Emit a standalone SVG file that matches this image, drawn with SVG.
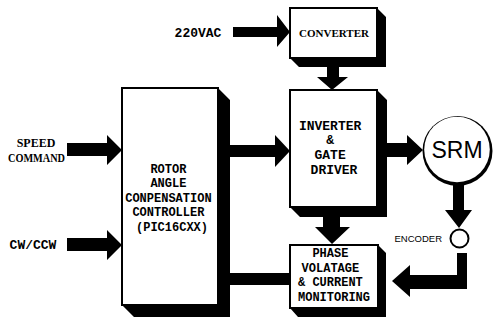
<svg xmlns="http://www.w3.org/2000/svg" width="499" height="320" viewBox="0 0 499 320">
  <style>
    .box { fill: #fff; stroke: #000; stroke-width: 2; }
    .shadow { fill: #000; }
    .arrow { fill: #000; }
    .mono { font-family: "Liberation Mono", "Courier New", monospace; font-weight: bold; fill: #000; }
    .serif { font-family: "Liberation Serif", "Times New Roman", serif; font-weight: bold; fill: #000; }
    .sans { font-family: "Liberation Sans", Arial, sans-serif; fill: #000; }
  </style>
  <rect width="499" height="320" fill="#fff"/>

  <!-- connectors (drawn first so boxes sit on top) -->
  <g id="connectors">
    <!-- 220VAC -> converter -->
    <polygon class="arrow" points="233,27 277,27 277,15 290,32 277,47 277,37 233,37"/>
    <!-- converter -> inverter -->
    <polygon class="arrow" points="327,62 339,62 339,77 348,77 332,90 317,77 327,77"/>
    <!-- speed command -> controller -->
    <polygon class="arrow" points="67,143 107,143 107,135 122,150 107,165 107,156 67,156"/>
    <!-- cw/ccw -> controller -->
    <polygon class="arrow" points="67,238 107,238 107,230 122,245 107,260 107,251 67,251"/>
    <!-- controller -> inverter -->
    <polygon class="arrow" points="226,145 275,145 275,135 290,151 275,167 275,157 226,157"/>
    <!-- inverter -> SRM -->
    <polygon class="arrow" points="384,143 407,143 407,135 423,150 407,165 407,157 384,157"/>
    <!-- inverter -> phase monitoring -->
    <polygon class="arrow" points="323,214 340,214 340,227 350,227 332,244 315,227 323,227"/>
    <!-- SRM -> encoder -->
    <polygon class="arrow" points="453,183 464,183 464,210 472,210 459,228 445,210 453,210"/>
    <!-- encoder -> phase monitoring -->
    <polygon class="arrow" points="457,253 467,253 467,289 410,289 410,297 392,281 410,265 410,275 457,275"/>
    <!-- phase monitoring -> controller -->
    <rect class="arrow" x="226" y="273" width="66" height="12"/>
  </g>

  <!-- external input labels -->
  <g id="label-220vac">
    <text class="mono" x="198" y="37" font-size="13" text-anchor="middle">220VAC</text>
  </g>
  <g id="label-speed">
    <text class="serif" x="36" y="147" font-size="12" text-anchor="middle">SPEED</text>
    <text class="serif" x="8" y="161.5" font-size="11.5" textLength="57" lengthAdjust="spacingAndGlyphs">COMMAND</text>
  </g>
  <g id="label-cwccw">
    <text class="mono" x="33" y="249" font-size="13" text-anchor="middle">CW/CCW</text>
  </g>

  <!-- converter -->
  <g id="converter">
    <polygon class="shadow" points="377,8 386,17 386,67 299,67 290,58 377,58"/>
    <rect class="box" x="290" y="8" width="87" height="50"/>
    <text class="serif" x="334" y="37" font-size="11" text-anchor="middle">CONVERTER</text>
  </g>

  <!-- controller -->
  <g id="controller">
    <polygon class="shadow" points="218,88 230,100 230,317 134,317 122,305 218,305"/>
    <rect class="box" x="122" y="88" width="96" height="217"/>
    <text class="mono" font-size="12" text-anchor="middle">
      <tspan x="172" y="172.5">ROTOR</tspan>
      <tspan x="172" y="187">ANGLE</tspan>
      <tspan x="172" y="201.5">CONPENSATION</tspan>
      <tspan x="172" y="216">CONTROLLER</tspan>
      <tspan x="172" y="230.5">(PIC16CXX)</tspan>
    </text>
  </g>

  <!-- inverter & gate driver -->
  <g id="inverter">
    <polygon class="shadow" points="377,90 387,100 387,217 300,217 290,207 377,207"/>
    <rect class="box" x="290" y="90" width="87" height="117"/>
    <text class="mono" font-size="13" text-anchor="middle">
      <tspan x="334" y="129.5">INVERTER</tspan>
      <tspan x="334" y="144">&amp;</tspan>
      <tspan x="334" y="158.5">GATE</tspan>
      <tspan x="334" y="173.5">DRIVER</tspan>
    </text>
  </g>

  <!-- phase voltage & current monitoring -->
  <g id="monitoring">
    <polygon class="shadow" points="378,245 386,253 386,317 298,317 290,308 378,308"/>
    <rect class="box" x="290" y="245" width="88" height="63"/>
    <text class="mono" font-size="12" text-anchor="middle">
      <tspan x="334" y="257">PHASE</tspan>
      <tspan x="334" y="271.5">VOLATAGE</tspan>
      <tspan x="334" y="286">&amp; CURRENT</tspan>
      <tspan x="334" y="300.5">MONITORING</tspan>
    </text>
  </g>

  <!-- motor -->
  <g id="srm">
    <circle class="shadow" cx="457.5" cy="151" r="35"/>
    <circle cx="457" cy="149.5" r="32.8" fill="#fff"/>
    <text class="sans" x="457" y="158" font-size="23" text-anchor="middle">SRM</text>
  </g>

  <!-- encoder -->
  <g id="encoder">
    <circle cx="459.5" cy="238.5" r="9" fill="#fff" stroke="#000" stroke-width="2"/>
    <text class="sans" x="442" y="241.5" font-size="9.5" text-anchor="end">ENCODER</text>
  </g>
</svg>
